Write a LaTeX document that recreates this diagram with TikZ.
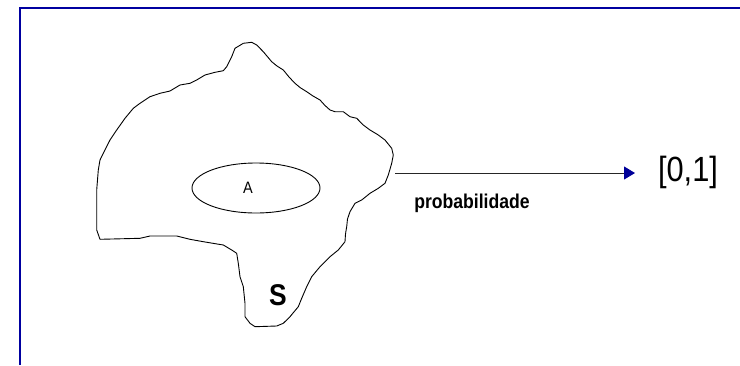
\documentclass[tikz,border=0pt]{standalone}
\usepackage{fontspec}
\setmainfont{Liberation Sans}
\usetikzlibrary{arrows.meta,shapes.geometric}
\definecolor{frameblue}{RGB}{0,0,160}
\definecolor{tipblue}{RGB}{0,0,153}
\tikzset{
  outline/.style={draw=black, line width=0.9pt, line join=round},
  frame/.style={draw=frameblue, line width=2.2pt},
  lbl/.style={inner sep=0pt, anchor=base, text=black},
  maparrow/.style={draw=black!85, line width=1pt,
    -{Triangle[length=11pt, width=13pt, color=tipblue]}}
}
\newcommand{\narrow}[1]{\scalebox{0.88}[1]{#1}}
\begin{document}
\begin{tikzpicture}[x=1pt, y=-1pt]
\useasboundingbox (0,0) rectangle (740,365);
% frame
\coordinate (ftl) at (20,8);
\coordinate (ftr) at (740,8);
\coordinate (fbl) at (20,365);
\draw[frame] (fbl) -- (ftl) -- (ftr);
% set S outline
\draw[outline] (235,48.3) -- (243.3,43.3) -- (251.7,42.3) -- (256.7,45) -- (263.3,51.7)
 -- (271.7,61.7) -- (277,66) -- (283.3,70) -- (289,77) -- (295,83.3) -- (300,87.5) -- (306.7,91.7)
 -- (313,96) -- (320,100) -- (325,105.5) -- (330,110) -- (335,111.7) -- (343.3,111.7)
 -- (350,116.7) -- (356.7,118.3) -- (363.3,125) -- (370,130) -- (378.3,135)
 -- (385,140) -- (391.7,148.3) -- (393.3,155) -- (391.7,163.3) -- (388.3,175)
 -- (385,183.3) -- (378.3,188.3) -- (370,193.3) -- (361.7,200) -- (355,203.3)
 -- (350,211.7) -- (347.5,219) -- (346.7,226.7) -- (345.5,234) -- (345,241.7) -- (338.3,250)
 -- (330,256.7) -- (320,266.7) -- (311.7,276.7) -- (306.7,286.7) -- (301.7,298.3)
 -- (298.3,306.7) -- (290,316.7) -- (283.3,323.3) -- (276.7,326) -- (255,326.7)
 -- (250,323.3) -- (245,316.7) -- (245,303.3) -- (243.3,286.7) -- (240,276.7)
 -- (238.3,263.3) -- (236.7,253.3) -- (231.7,250) -- (223.3,245) -- (203.3,241.7)
 -- (190,239.3) -- (176.7,236) -- (150,236) -- (140,238.3) -- (100,239.3)
 -- (96.7,230) -- (96.7,190) -- (98.3,170) -- (100,160) -- (103.3,153.3)
 -- (110,140) -- (116.7,130) -- (125,118.3) -- (133.3,108.3) -- (140,103.3)
 -- (150,96.7) -- (160,93.3) -- (170,91) -- (180,85) -- (190,83.3) -- (196.7,80)
 -- (205,75) -- (215,72.3) -- (223.3,70.7) -- (226.7,66.7) -- (231.7,56.7) -- cycle;
% event A
\node[draw=black, line width=0.9pt, ellipse, minimum width=128pt, minimum height=50pt, inner sep=0pt] (ev) at (256,188) {};
\node[lbl, font=\fontsize{16.5}{18}\selectfont] (la) at (248,193) {\narrow{A}};
\node[lbl, font=\fontsize{30}{32}\selectfont\bfseries] (ls) at (278,305) {\narrow{S}};
% mapping arrow
\coordinate (astart) at (395,173);
\coordinate (aend) at (635,173);
\draw[maparrow] (astart) -- (aend);
\node[lbl, font=\fontsize{20}{22}\selectfont\bfseries] (lp) at (472,208) {\narrow{probabilidade}};
\node[lbl, font=\fontsize{35}{38}\selectfont] (lu) at (688,181) {\narrow{[0,1]}};
\end{tikzpicture}
\end{document}
